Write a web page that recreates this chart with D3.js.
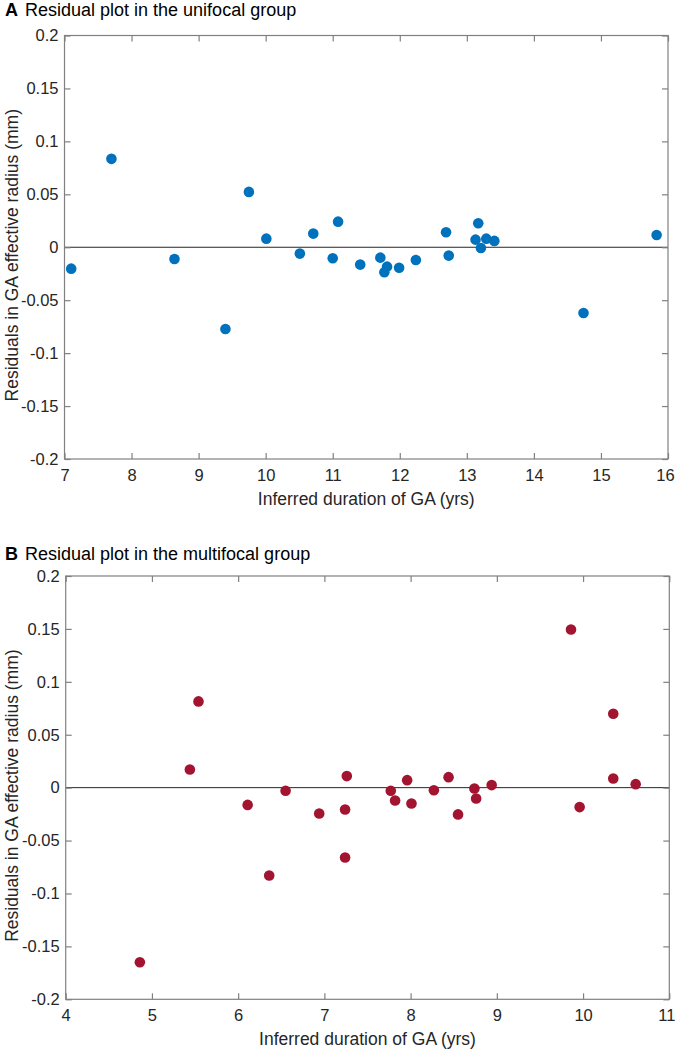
<!DOCTYPE html>
<html><head><meta charset="utf-8">
<script src="https://cdn.jsdelivr.net/npm/d3@7"></script>
<style>
body{margin:0;background:#fff;}
text{font-family:"Liberation Sans",Arial,sans-serif;}
</style></head>
<body><svg id="c" width="676" height="1050"></svg>
<script>
// Panel A: unifocal group
const unifocalX = [7.10, 7.70, 8.64, 9.40, 9.75, 10.01, 10.51, 10.71, 11.00, 11.08, 11.41, 11.71, 11.77, 11.81, 11.99, 12.24, 12.69, 12.73, 13.13, 13.17, 13.21, 13.29, 13.41, 14.74, 15.83];
const unifocalY = [-0.0202, 0.0835, -0.0111, -0.0772, 0.0523, 0.0081, -0.0060, 0.0129, -0.0104, 0.0242, -0.0164, -0.0098, -0.0236, -0.0183, -0.0193, -0.0120, 0.0142, -0.0079, 0.0072, 0.0227, -0.0007, 0.0081, 0.0060, -0.0621, 0.0116];
// Panel B: multifocal group
const multifocalX = [4.86, 5.44, 5.54, 6.11, 6.36, 6.55, 6.94, 7.24, 7.24, 7.26, 7.77, 7.82, 7.96, 8.01, 8.27, 8.44, 8.55, 8.74, 8.76, 8.94, 9.86, 9.96, 10.35, 10.35, 10.61];
const multifocalY = [-0.165, 0.0172, 0.0815, -0.0163, -0.083, -0.003, -0.0244, -0.0206, -0.066, 0.0109, -0.003, -0.0121, 0.0071, -0.015, -0.0024, 0.0099, -0.0253, -0.0008, -0.0102, 0.0024, 0.1495, -0.0184, 0.0698, 0.0087, 0.0033];

const xTicksA = [7, 8, 9, 10, 11, 12, 13, 14, 15, 16];
const xTicksB = [4, 5, 6, 7, 8, 9, 10, 11];
const yTicks = [-0.2, -0.15, -0.1, -0.05, 0, 0.05, 0.1, 0.15, 0.2];
const yTickLabels = ["-0.2", "-0.15", "-0.1", "-0.05", "0", "0.05", "0.1", "0.15", "0.2"];
const titleLetters = ["A", "B"];
const titles = ["Residual plot in the unifocal group", "Residual plot in the multifocal group"];
const xLabel = "Inferred duration of GA (yrs)";
const yLabel = "Residuals in GA effective radius (mm)";

const svg = d3.select("#c");

function panel(cfg){
  const {left, right, top, bottom, xDomain, xTicks, xs, ys, color, letter, title, titleY} = cfg;
  const g = svg.append("g");
  const x = d3.scaleLinear().domain(xDomain).range([left, right]);
  const y = d3.scaleLinear().domain([-0.2, 0.2]).range([bottom, top]);
  const axisCol = "#808080", txtCol = "#262626";

  // title
  const t = g.append("text").attr("x", 5).attr("y", titleY).attr("font-size", 18).attr("fill", "#000");
  t.append("tspan").attr("font-weight", "bold").text(letter);
  t.append("tspan").attr("x", 25).text(title);

  // zero line
  g.append("line").attr("x1", left).attr("x2", right).attr("y1", y(0)).attr("y2", y(0))
    .attr("stroke", "#262626").attr("stroke-width", 1);

  // box
  g.append("rect").attr("x", left).attr("y", top).attr("width", right-left).attr("height", bottom-top)
    .attr("fill", "none").attr("stroke", axisCol).attr("stroke-width", 1.2);

  // axes via d3 axis (ticks inward)
  const xb = g.append("g").attr("transform", `translate(0,${bottom})`)
    .call(d3.axisBottom(x).tickValues(xTicks).tickSize(-6).tickPadding(10).tickFormat(d3.format("d")));
  const xt = g.append("g").attr("transform", `translate(0,${top})`)
    .call(d3.axisTop(x).tickValues(xTicks).tickSize(-6).tickFormat(""));
  const yl = g.append("g").attr("transform", `translate(${left},0)`)
    .call(d3.axisLeft(y).tickValues(yTicks).tickSize(-6).tickPadding(6).tickFormat((d,i)=>yTickLabels[i]));
  const yr = g.append("g").attr("transform", `translate(${right},0)`)
    .call(d3.axisRight(y).tickValues(yTicks).tickSize(-6).tickFormat(""));
  [xb, xt, yl, yr].forEach(a => {
    a.select(".domain").remove();
    a.selectAll(".tick line").attr("stroke", axisCol).attr("stroke-width", 1.2);
    a.selectAll(".tick text").attr("fill", txtCol).attr("font-size", 16.5)
      .attr("font-family", '"Liberation Sans",Arial,sans-serif');
  });
  xb.selectAll(".tick text").attr("dy", "0.71em");
  // keep the last x tick label inside the page
  xb.selectAll(".tick:last-of-type text").attr("dx", -3);

  // axis labels
  g.append("text").attr("x", (left+right)/2).attr("y", bottom + 46).attr("text-anchor", "middle")
    .attr("font-size", 17.5).attr("fill", txtCol).text(xLabel);
  g.append("text").attr("transform", `translate(18,${(top+bottom)/2 + 8}) rotate(-90)`)
    .attr("text-anchor", "middle").attr("font-size", 17.5).attr("fill", txtCol).text(yLabel);

  // points
  g.append("g").selectAll("circle").data(xs.map((v,i)=>[v, ys[i]])).join("circle")
    .attr("cx", d => x(d[0])).attr("cy", d => y(d[1])).attr("r", 5.3).attr("fill", color);
}

panel({left:64.5, right:668, top:35.5, bottom:459, xDomain:[7,16], xTicks:xTicksA,
  xs:unifocalX, ys:unifocalY, color:"#0072BD", letter:titleLetters[0], title:titles[0], titleY:16});
panel({left:65.7, right:669.3, top:576, bottom:999.3, xDomain:[4,11], xTicks:xTicksB,
  xs:multifocalX, ys:multifocalY, color:"#A2142F", letter:titleLetters[1], title:titles[1], titleY:560});
</script></body></html>
